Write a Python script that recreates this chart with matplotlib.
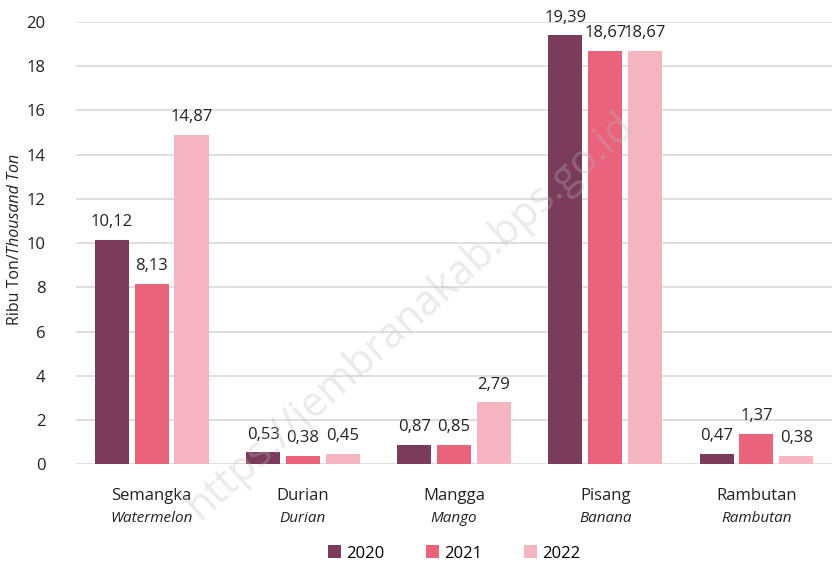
import matplotlib.pyplot as plt
import numpy as np

categories = ["Semangka", "Durian", "Mangga", "Pisang", "Rambutan"]
categories_en = ["Watermelon", "Durian", "Mango", "Banana", "Rambutan"]
years = ["2020", "2021", "2022"]
v2020 = [10.12, 0.53, 0.87, 19.39, 0.47]
v2021 = [8.13, 0.38, 0.85, 18.67, 1.37]
v2022 = [14.87, 0.45, 2.79, 18.67, 0.38]
colors = ["#7B3B5B", "#E8637B", "#F4B5C1"]

plt.rcParams['font.family'] = ['Open Sans', 'DejaVu Sans']
fig = plt.figure(figsize=(8.37, 5.64), dpi=100)
ax = fig.add_axes([0.091, 0.177, 0.903, 0.784])

x = np.arange(len(categories))
w = 0.225
step = 0.263
for i, (vals, c, lab) in enumerate(zip([v2020, v2021, v2022], colors, years)):
    pos = x + (i - 1) * step
    bars = ax.bar(pos, vals, width=w, color=c, label=lab, zorder=3)
    for b, v in zip(bars, vals):
        ax.text(b.get_x() + b.get_width() / 2, v + 0.45, f"{v:.2f}".replace(".", ","),
                ha="center", va="bottom", fontsize=12, color="#222222", zorder=4)

ax.set_xlim(-0.5, len(categories) - 0.5)
ax.set_ylim(0, 20)
ax.set_yticks(np.arange(0, 21, 2))
ax.yaxis.grid(True, color="#d9d9d9", linewidth=1.2, zorder=0)
ax.tick_params(axis="y", length=0, labelsize=12, pad=22, colors="#222222")
ax.set_xticks(x)
ax.set_xticklabels([])
ax.tick_params(axis="x", length=0)
for s in ax.spines.values():
    s.set_visible(False)

trans = ax.get_xaxis_transform()
for xi, c1, c2 in zip(x, categories, categories_en):
    ax.text(xi, -0.055, c1, transform=trans, ha="center", va="top", fontsize=12, color="#222222")
    ax.text(xi, -0.105, c2, transform=trans, ha="center", va="top", fontsize=11,
            style="italic", color="#222222")

fig.text(0.018, 0.55, "Ribu Ton/", rotation=90, ha="center", va="top", fontsize=11.5, color="#222222")
fig.text(0.018, 0.55, "Thousand Ton", rotation=90, ha="center", va="bottom", fontsize=11.5,
         style="italic", color="#222222")

ax.legend(loc="upper center", bbox_to_anchor=(0.5, -0.15), ncol=3, frameon=False,
          fontsize=12, handlelength=0.8, handleheight=0.8, handletextpad=0.3, columnspacing=2.5)

# faint watermark
fig.text(0.49, 0.44, "https://jembranakab.bps.go.id", rotation=42, ha="center", va="center",
         fontsize=30, color="#bbbbbb", alpha=0.3, zorder=10)

fig.savefig("out.png", dpi=100)
